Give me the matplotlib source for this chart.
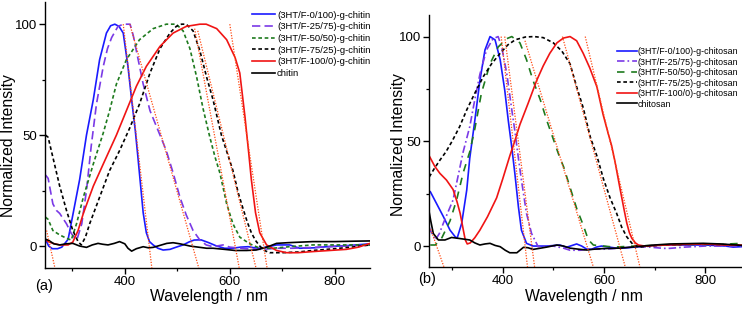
import matplotlib
matplotlib.use('Agg')
import matplotlib.pyplot as plt

plt.rcParams['font.family'] = ['Liberation Sans', 'DejaVu Sans']

# ---------------- data: panel (a) chitin ----------------
a_labels = ['(3HT/F-0/100)-g-chitin', '(3HT/F-25/75)-g-chitin', '(3HT/F-50/50)-g-chitin',
            '(3HT/F-75/25)-g-chitin', '(3HT/F-100/0)-g-chitin', 'chitin']

a_blue = [(249, 3), (255, 0), (262, -1.2), (272, -1.2), (280, -0.5), (292, 3), (301, 14), (314, 30),
          (327, 50), (340, 66), (352, 84), (365, 96), (373, 99.3), (381, 100), (389, 99), (397, 96),
          (406, 81), (413, 66), (420, 52), (425, 40), (429, 30), (435, 15), (441, 6), (447, 2),
          (454, 0.5), (463, -1), (473, -1.8), (486, -1.5), (498, -0.5), (511, 0.5), (522, 1.8),
          (532, 2.7), (545, 2.8), (560, 1.5), (575, 0), (590, -1), (606, -1), (620, -0.5), (635, -0.3),
          (647, -0.8), (657, -1), (670, -0.5), (689, 0.5), (714, 0.5), (733, -1), (760, -0.8),
          (790, -0.2), (830, 0.3), (867, 1)]

a_purple = [(249, 32), (254, 30.5), (263, 19), (270, 16), (276, 14.7), (289, 10), (298, 5.7), (305, 3.5),
            (309, 3), (318, 10), (327, 25), (336, 45), (346, 64), (359, 81), (367, 89), (375, 94),
            (387, 99), (397, 100), (410, 100), (416, 95), (422, 88), (435, 73), (448, 61), (467, 50),
            (479, 43), (492, 33), (505, 22), (517, 14), (530, 7), (543, 2.7), (555, 0.5), (568, -0.3),
            (587, 0.5), (600, -0.5), (630, -1.2), (660, -1.5), (690, -1), (720, -1), (760, -0.6),
            (800, -0.2), (840, 0.2), (867, 0.5)]

a_green = [(249, 13), (254, 12), (263, 7), (276, 5), (289, 3.5), (298, 2.7), (308, 10), (321, 22),
           (340, 37), (359, 51), (371, 61), (384, 73), (403, 84), (428, 93), (454, 98), (479, 100),
           (498, 100), (511, 97), (524, 89), (537, 76), (549, 62), (562, 49), (572, 40), (581, 33),
           (594, 19), (606, 10), (619, 4), (638, 1), (657, -1), (682, -1), (714, -0.3), (758, 0.5),
           (867, 0.5)]

a_blackdot = [(249, 50), (254, 49), (263, 40), (276, 27), (289, 16), (301, 7), (311, 2), (317, 0.5),
              (325, 4), (333, 10), (352, 22), (371, 34), (390, 43), (409, 53), (428, 64), (448, 78),
              (467, 89), (486, 96), (498, 99), (508, 100), (517, 100), (530, 97), (543, 88), (556, 76),
              (568, 66), (584, 50), (595, 42), (606, 34), (616, 24), (625, 17), (633, 11), (641, 6),
              (649, 2.5), (657, 0), (666, -2), (676, -3), (700, -3), (730, -2.7), (758, -2),
              (800, -1.2), (840, -0.3), (867, 0.5)]

a_red = [(249, 3), (254, 2), (263, 1.2), (276, 0.5), (292, 0.5), (301, 1.8), (311, 7), (321, 14.7),
         (340, 27), (359, 37), (384, 50), (403, 61), (422, 72), (441, 81), (467, 90), (492, 96),
         (517, 99), (543, 100), (555, 100), (575, 98), (594, 93), (610, 85), (619, 78), (625, 66),
         (629, 58), (632, 51), (636, 42), (641, 30), (649, 15), (657, 6), (670, 0.5), (689, -2),
         (708, -3), (730, -3), (758, -2.5), (790, -2), (822, -1.5), (845, -0.5), (867, 1.2)]

a_black = [(249, 3), (254, 2.7), (265, 1), (276, 0.5), (288, 1), (301, 1.2), (314, 0), (327, -0.6),
           (338, 0.5), (349, 1.2), (358, 0.8), (368, 0.5), (380, 1.2), (390, 2), (400, 1), (406, -1),
           (413, -2.3), (422, -1.2), (435, -0.3), (445, -0.8), (454, -0.6), (470, 0.5), (480, 1.2),
           (492, 1.5), (505, 1), (524, 0), (540, -0.5), (556, -1), (568, -1), (590, -1.5), (610, -2),
           (632, -2), (650, -1.8), (663, -1), (676, 0), (689, 1.2), (710, 1.5), (758, 2), (800, 2),
           (840, 2.2), (867, 2.3)]

a_tangents = [((251, 7), (267, -10)), ((397, 100), (451.5, -10)), ((409.5, 100), (541, -10)),
              ((533, 98), (618, -10)), ((539, 97), (650, -10)), ((600, 100), (671, -10))]

# ---------------- data: panel (b) chitosan ----------------
b_labels = ['(3HT/F-0/100)-g-chitosan', '(3HT/F-25/75)-g-chitosan', '(3HT/F-50/50)-g-chitosan',
            '(3HT/F-75/25)-g-chitosan', '(3HT/F-100/0)-g-chitosan', 'chitosan']

b_blue = [(255, 26), (257, 26), (270, 20), (283, 14), (296, 7.6), (306, 4.5), (310, 3.7), (319, 10.8),
          (329, 26.7), (335, 42), (345, 60), (355, 79), (365, 93.6), (375, 100), (385, 98.4), (395, 89),
          (404, 74.5), (411, 60), (418, 47), (424, 34.7), (431, 18.8), (437, 7.6), (447, 1.3), (460, 0),
          (487, 0), (513, 0.5), (526, -0.6), (546, 1), (556, 0), (566, -1.5), (576, -1.5), (585, -0.5),
          (595, 0), (610, -0.5), (625, -1), (640, -1), (660, -0.5), (680, 0), (720, 0.5), (760, 0.5),
          (800, 0.5), (840, 0), (855, -0.5), (872, -0.3)]

b_purple = [(255, 9), (257, 7.6), (267, 2.9), (275, 6), (283, 11), (302, 22), (322, 45), (335, 57),
            (345, 70), (355, 82), (368, 93.6), (381, 99), (391, 100), (398, 95), (408, 82.5), (418, 65),
            (424, 55), (431, 42), (437, 31.5), (447, 15.6), (457, 6), (470, -0.3), (500, 0), (520, -1),
            (533, -2), (553, -2), (570, -1.5), (600, -1.5), (630, -1), (664, -0.3), (690, -0.5),
            (717, -1.1), (730, -1.1), (760, -0.5), (800, 0), (840, 0), (872, 0)]

b_green = [(257, 0.5), (267, 0.5), (280, 4), (296, 12), (309, 22), (322, 35), (335, 45), (345, 56),
           (358, 73), (375, 87), (391, 95), (408, 99), (418, 100), (434, 97), (447, 89), (460, 79),
           (474, 70), (487, 60), (500, 51), (513, 42), (520, 38), (533, 28), (546, 18), (559, 10),
           (569, 3), (579, 0.5), (599, 0), (620, -0.5), (660, 0), (720, 0.5), (780, 0.8), (830, 0.8),
           (872, 1.3)]

b_blackdot = [(255, 33), (265, 37), (276, 41), (288, 45), (300, 50), (315, 57), (329, 65), (345, 73),
              (362, 81), (378, 87), (395, 92), (410, 96), (425, 98.5), (445, 99.8), (462, 100),
              (480, 99.5), (500, 97), (517, 93), (533, 87), (546, 76), (559, 66), (573, 52), (586, 43),
              (599, 32), (612, 23), (625, 15.6), (635, 9), (645, 4.4), (658, 0.5), (670, -0.5),
              (690, 0), (720, 0.5), (780, 1), (820, 0.8), (872, 0.5)]

b_red = [(255, 43), (266, 38), (276, 34.7), (289, 31.5), (302, 27), (310, 21), (316, 15.6), (322, 8),
         (326, 3), (330, 1), (336, 1.5), (345, 4), (355, 7.6), (370, 14), (388, 23), (400, 32),
         (414, 43), (425, 51), (434, 58), (450, 68), (467, 79), (480, 86), (493, 92), (507, 97),
         (520, 99.3), (533, 100), (546, 98), (559, 92), (572, 85), (586, 76), (598, 63), (608, 54),
         (615, 48), (622, 40), (632, 27), (640, 17), (645, 11), (650, 6.5), (655, 3.7), (662, 1.5),
         (668, 0.5), (680, 0), (720, 0.5), (760, 0.8), (800, 1), (840, 0.5), (872, 0.5)]

b_black = [(255, 16), (258, 12), (263, 6), (273, 2.9), (286, 2.9), (299, 4.1), (312, 3.7), (335, 2.9),
           (345, 1.5), (355, 0.5), (365, 1), (375, 1.3), (385, 0.3), (395, -0.3), (405, -2), (414, -3.2),
           (428, -3.2), (441, -0.6), (450, -0.8), (460, -1.6), (475, -1), (487, -0.5), (507, 0.5),
           (520, 0), (533, -1), (550, -1.5), (566, -1.9), (580, -1.5), (599, -1.2), (630, -1),
           (664, -0.3), (700, 0.5), (730, 1), (796, 1.3), (830, 1), (862, 0.5), (872, 0.3)]

b_tangents = [((258, 8), (284, -10)), ((397, 100), (449, -10)), ((404, 100), (463, -10)),
              ((444, 98), (579, -10)), ((518, 100), (642, -10)), ((563, 100), (671, -10))]

x_major = [400, 600, 800]
x_minor = [300, 500, 700]
y_major = [0, 50, 100]
y_minor = [25, 75]

# ---------------- styling ----------------
C_BLUE = '#1a1aff'
C_PURPLE = '#7a3ae6'
C_GREEN = '#1e7a1e'
C_BLACK = '#000000'
C_RED = '#f01414'
C_TAN = '#ff4a12'
LW = 1.2

a_styles = [dict(color=C_BLUE, ls='-'),
            dict(color=C_PURPLE, dashes=(5, 2.5)),
            dict(color=C_GREEN, dashes=(2.2, 1.6)),
            dict(color=C_BLACK, dashes=(2.2, 1.6)),
            dict(color=C_RED, ls='-'),
            dict(color=C_BLACK, ls='-')]
b_styles = [dict(color=C_BLUE, ls='-'),
            dict(color=C_PURPLE, dashes=(4.5, 1.8, 1, 1.8)),
            dict(color=C_GREEN, dashes=(4.5, 4)),
            dict(color=C_BLACK, dashes=(2.2, 1.6)),
            dict(color=C_RED, ls='-'),
            dict(color=C_BLACK, ls='-')]

W, H = 742, 310
fig = plt.figure(figsize=(W / 100, H / 100), dpi=100)


def px_axes(l, t, r, b):
    return fig.add_axes([l / W, 1 - b / H, (r - l) / W, (b - t) / H])


def setup(ax, xlim, ylim):
    ax.set_xlim(*xlim)
    ax.set_ylim(*ylim)
    ax.spines['top'].set_visible(False)
    ax.spines['right'].set_visible(False)
    for s in ('left', 'bottom'):
        ax.spines[s].set_linewidth(1.0)
    ax.set_xticks(x_major)
    ax.set_xticks(x_minor, minor=True)
    ax.set_yticks(y_major)
    ax.set_yticks(y_minor, minor=True)
    ax.tick_params(which='major', direction='out', length=4, width=1.0, labelsize=9.5)
    ax.tick_params(which='minor', direction='out', length=2.5, width=0.9)
    ax.tick_params(axis='x', pad=2)
    ax.tick_params(axis='y', pad=1.5)


def draw(ax, series, styles, tangents):
    handles = []
    for pts, st in zip(series, styles):
        xs = [p[0] for p in pts]
        ys = [p[1] for p in pts]
        ln, = ax.plot(xs, ys, lw=LW, **st)
        handles.append(ln)
    for (x0, y0), (x1, y1) in tangents:
        ax.plot([x0, x1], [y0, y1], color=C_TAN, lw=0.9, ls=(0, (1, 1.2)), zorder=5)
    return handles


ax1 = px_axes(45, 2, 370, 268)
setup(ax1, (248, 867), (-9.9, 110))
h1 = draw(ax1, [a_blue, a_purple, a_green, a_blackdot, a_red, a_black], a_styles, a_tangents)
ax1.legend(h1, a_labels, loc='upper left', bbox_to_anchor=(252 / W, 1 - 10.5 / H),
           bbox_transform=fig.transFigure, frameon=False, fontsize=6.8, handlelength=2.45,
           handletextpad=0.2, labelspacing=0.29, borderpad=0, borderaxespad=0)

ax2 = px_axes(429, 15, 742, 267)
setup(ax2, (254.5, 872.5), (-10, 110.3))
h2 = draw(ax2, [b_blue, b_purple, b_green, b_blackdot, b_red, b_black], b_styles, b_tangents)
ax2.legend(h2, b_labels, loc='upper left', bbox_to_anchor=(617 / W, 1 - 47 / H),
           bbox_transform=fig.transFigure, frameon=False, fontsize=6.4, handlelength=2.25,
           handletextpad=0.1, labelspacing=0.17, borderpad=0, borderaxespad=0)

# axis titles and panel letters
fig.text(209 / W, 1 - 297 / H, 'Wavelength / nm', ha='center', va='center', fontsize=11.3)
fig.text(584 / W, 1 - 297 / H, 'Wavelength / nm', ha='center', va='center', fontsize=11.3)
fig.text(9 / W, 1 - 146 / H, 'Normalized Intensity', ha='center', va='center', rotation=90, fontsize=11.3)
fig.text(398 / W, 1 - 145 / H, 'Normalized Intensity', ha='center', va='center', rotation=90, fontsize=11.3)
fig.text(44 / W, 1 - 286 / H, '(a)', ha='center', va='center', fontsize=10.5)
fig.text(427.5 / W, 1 - 278.5 / H, '(b)', ha='center', va='center', fontsize=10.5)

fig.savefig('out.png', dpi=100)
